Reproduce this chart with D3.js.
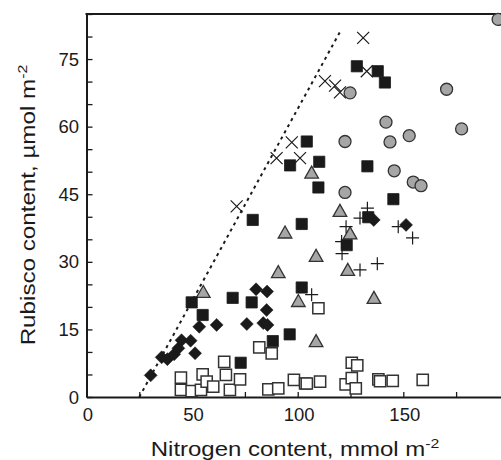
<!DOCTYPE html>
<html>
<head>
<meta charset="utf-8">
<script src="https://cdn.jsdelivr.net/npm/d3@7"></script>
<style>
  body { margin: 0; background: #fff; }
  svg { display: block; font-family: "Liberation Sans", Arial, sans-serif; }
</style>
</head>
<body>
<svg width="501" height="460"></svg>
<script>
// data: [nitrogen, rubisco]
const crosses = [[71.1,42.3],[90,53],[97.2,56.5],[101.1,53],[112.9,70.1],[117.7,69.1],[120,67.6],[132.7,72.3],[131,79.7]];
const filledSquares = [[49.8,21],[55,18.2],[69.2,22],[78.2,21],[78.7,39.3],[88.2,12.4],[73,7.6],[96.2,13.9],
  [101.9,24.3],[101.9,38.4],[123.2,33.7],[133.4,39.9],[145.3,43.9],[128,73.4],[137.9,72.3],[141.3,69.8],
  [104.3,56.7],[110.2,52.2],[96.4,51.4],[109.8,46.5],[133,51.2]];
const greyCircles = [[194.9,83.8],[124.8,67.5],[170.5,68.3],[141.8,61],[122.4,56.7],[143.7,56.6],[152.8,58],
  [177.6,59.5],[145.7,50.2],[154.7,47.7],[158.4,46.9],[122.4,45.4]];
const greyTriangles = [[55.3,23.2],[90.8,27.6],[94,36.4],[100.3,21.2],[106.6,49.7],[108.7,31.2],[108.7,12.3],
  [120,41.2],[124.8,36.2],[123.7,28.1],[136.1,21.9]];
const pluses = [[106.6,22.7],[120.8,34.5],[121,31.8],[122.9,37.8],[129.5,39.7],[133,41.9],[129.5,28.2],
  [137.7,29.6],[147.6,37.8],[154.4,35.3]];
const diamonds = [[30.4,4.8],[35.6,8.8],[38.3,8.4],[41.5,9.5],[43.5,10.8],[45,12.6],[49.3,12.5],[51.4,9.7],
  [53.4,15.6],[61.6,16],[75.9,16.2],[80.3,23.9],[85.5,23.4],[85.3,19.3],[83.7,16.4],[85.7,16],[136,39.3],[151.3,38.2]];
const openSquares = [[44.7,4.3],[44.7,1.6],[49.8,1.3],[54.2,1.6],[55,5],[56.9,3.4],[60,2.3],[65.2,7.8],[66,4.9],
  [67.9,1.6],[72.7,3.9],[81.8,11],[87.7,9.7],[86.1,1.7],[90.8,1.9],[98.2,3.8],[103.5,3],[104.3,3],[110.6,3.4],
  [109.8,19.7],[125.6,7.6],[128.2,7],[122.7,2.8],[125.6,4.2],[127.5,1.9],[138.2,3.9],[139,3.5],[145,3.6],[159.2,3.8]];
const limitLine = [[25,0],[120,81]];

const xTicks = [0,25,50,75,100,125,150,175,200];
const xLabels = [0,50,100,150];
const yTicks = d3.range(0, 86, 5);
const yLabels = [0,15,30,45,60,75];

const svg = d3.select("svg");
const m = { left: 86.5, top: 14 };
const x = d3.scaleLinear().domain([0, 200]).range([m.left, m.left + 422.4]);
const y = d3.scaleLinear().domain([0, 85]).range([397, m.top]);

const ink = "#1a1a1a";
const g = svg.append("g");

// 축 (눈금은 안쪽으로)
const xAxis = g.append("g").attr("transform", `translate(0,${y(0)})`)
  .call(d3.axisBottom(x).tickValues(xTicks).tickSizeInner(-5).tickSizeOuter(0).tickFormat(""));
const yAxis = g.append("g").attr("transform", `translate(${x(0)},0)`)
  .call(d3.axisLeft(y).tickValues(yTicks).tickSizeInner(-6).tickSizeOuter(0).tickFormat(""));
[xAxis, yAxis].forEach(a => {
  a.select(".domain").attr("stroke", ink).attr("stroke-width", 2);
  a.selectAll(".tick line").attr("stroke", ink).attr("stroke-width", 1.3);
});
// top frame line
g.append("line").attr("x1", x(0) - 1).attr("x2", x(200)).attr("y1", y(85)).attr("y2", y(85))
  .attr("stroke", ink).attr("stroke-width", 2);

// 눈금 라벨
g.selectAll(".xl").data(xLabels).join("text")
  .attr("x", d => x(d) + 1.5).attr("y", 421).attr("text-anchor", "middle")
  .attr("font-size", 18.5).attr("fill", ink).text(d => d);
g.selectAll(".yl").data(yLabels).join("text")
  .attr("x", 79).attr("y", d => y(d)).attr("dy", "0.36em").attr("text-anchor", "end")
  .attr("font-size", 18.5).attr("fill", ink).text(d => d);

// 축 제목 (원본 글꼴이 가로로 넓어서 살짝 늘림)
const xt = g.append("text").attr("transform", "translate(295,456) scale(1.17,1)").attr("text-anchor", "middle")
  .attr("font-size", 20.5).attr("fill", ink);
xt.append("tspan").text("Nitrogen content, mmol m");
xt.append("tspan").attr("font-size", 13.5).attr("dy", -8).text("-2");

const yt = g.append("text").attr("transform", "translate(35,205) rotate(-90) scale(1.18,1)").attr("text-anchor", "middle")
  .attr("font-size", 20.5).attr("fill", ink);
yt.append("tspan").text("Rubisco content, µmol m");
yt.append("tspan").attr("font-size", 13.5).attr("dy", -8).text("-2");

// dotted line
g.append("path").attr("d", d3.line().x(d => x(d[0])).y(d => y(d[1]))(limitLine))
  .attr("fill", "none").attr("stroke", ink).attr("stroke-width", 2).attr("stroke-dasharray", "3,4");

// 마커
const pos = d => `translate(${x(d[0])},${y(d[1])})`;
const sq = 5.6;
function plot(data, path, fill, stroke, sw) {
  g.append("g").selectAll("path").data(data).join("path")
    .attr("transform", pos).attr("d", path)
    .attr("fill", fill).attr("stroke", stroke).attr("stroke-width", sw);
}
plot(openSquares, `M${-sq},${-sq}H${sq}V${sq}H${-sq}Z`, "#fff", "#333", 1.5);
plot(greyTriangles, "M0,-7L6.8,5L-6.8,5Z", "#a6a6a6", "#333", 1.3);
plot(greyCircles, "M6,0A6,6 0 1,1 -6,0A6,6 0 1,1 6,0Z", "#a6a6a6", "#333", 1.3);
plot(diamonds, "M0,-6.5L6.5,0L0,6.5L-6.5,0Z", ink, ink, 0.5);
plot(filledSquares, `M${-sq},${-sq}H${sq}V${sq}H${-sq}Z`, ink, ink, 0.8);
plot(crosses, "M-6,-6L6,6M-6,6L6,-6", "none", ink, 1.2);
plot(pluses, "M-6.5,0H6.5M0,-6.5V6.5", "none", ink, 1.2);
</script>
</body>
</html>
